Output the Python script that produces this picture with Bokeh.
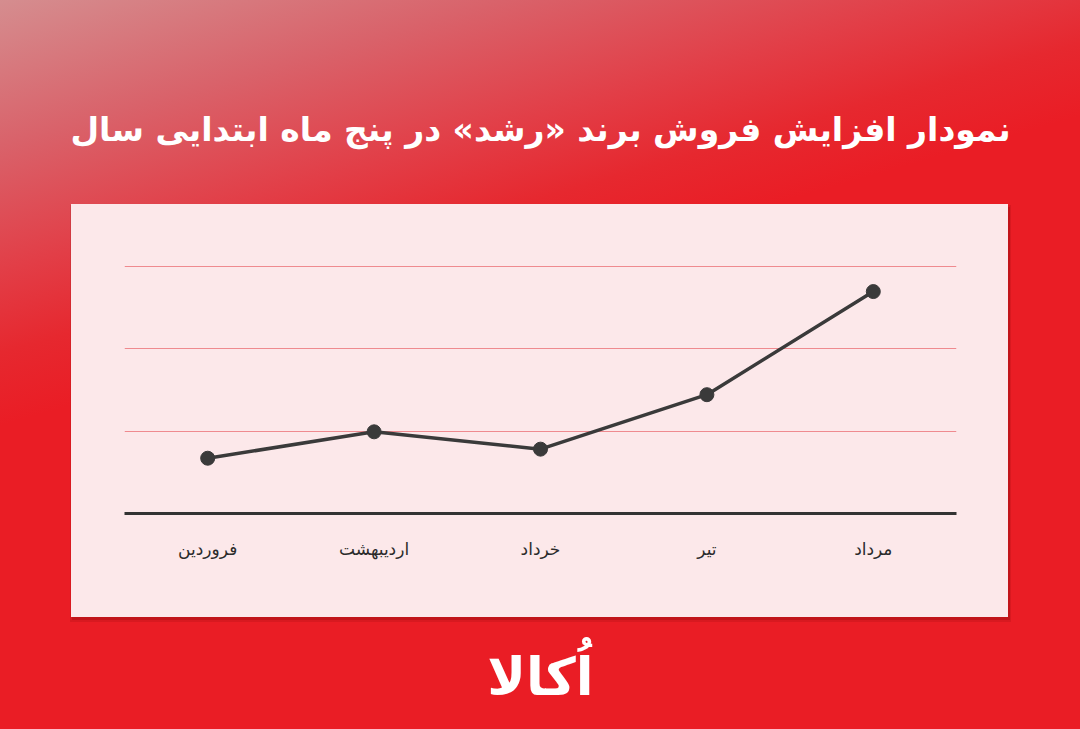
from bokeh.plotting import figure
from bokeh.models import FactorRange, Range1d, Grid, FixedTicker
from bokeh.embed import file_html
from bokeh.resources import INLINE

# ---- data ----
title_text = "نمودار افزایش فروش برند «رشد» در پنج ماه ابتدایی سال"
brand_text = "اُکالا"
months = ["فروردین", "اردیبهشت", "خرداد", "تیر", "مرداد"]
sales = [6.7, 9.9, 7.8, 14.4, 26.9]
grid_ticks = [10, 20, 30]

# ---- layout constants (canvas pixels) ----
W, H = 1080, 729
FL, FR, FT, FB = 124, 124, 249, 216
PANEL = (71, 204, 937, 413)  # left, top, width, height
PANEL_COLOR = "#fce8ea"

p = figure(width=W, height=H,
           x_range=FactorRange(*months), y_range=Range1d(0, 32),
           output_backend="svg", toolbar_location=None,
           y_axis_location=None,
           min_border_left=FL, min_border_right=FR,
           min_border_top=FT, min_border_bottom=FB)

p.background_fill_color = PANEL_COLOR
p.border_fill_color = None
p.outline_line_color = None

pl, pt, pw, ph = PANEL
bg = ", ".join([
    f"linear-gradient({PANEL_COLOR},{PANEL_COLOR}) {pl}px {pt}px / {pw}px {ph}px no-repeat",
    f"linear-gradient(rgba(110,0,0,0.22),rgba(110,0,0,0.22)) {pl+1}px {pt+3}px / {pw+1}px {ph}px no-repeat",
    f"linear-gradient(rgba(110,0,0,0.14),rgba(110,0,0,0.14)) {pl-1}px {pt+1}px / {pw+4}px {ph+4}px no-repeat",
    "linear-gradient(164deg, #d58d8f 0%, #d9626a 14%, #e23e47 26%, #e6282f 34%, #ea1d25 41%, #ea1d25 100%) 0 0 / 100% 100% no-repeat",
])
p.styles = {"background": bg}

# remove default grids, add our own
p.center = [r for r in p.center if not isinstance(r, Grid)]
p.add_layout(Grid(dimension=1, ticker=FixedTicker(ticks=grid_ticks),
                  grid_line_color="#ef8a8f", grid_line_width=1))

xa = p.xaxis[0]
xa.axis_line_color = "#333333"
xa.axis_line_width = 3
xa.major_tick_line_color = None
xa.minor_tick_line_color = None
xa.major_label_text_font = "DejaVu Sans"
xa.major_label_text_font_size = "17px"
xa.major_label_text_color = "#2b2b2b"
xa.major_label_standoff = 19
# brand mark under the chart
xa.axis_label = brand_text
xa.axis_label_text_font = "DejaVu Sans"
xa.axis_label_text_font_style = "bold"
xa.axis_label_text_font_size = "52px"
xa.axis_label_text_color = "white"
xa.axis_label_standoff = 85

p.line(x=months, y=sales, line_width=3.5, line_color="#3a3a3a")
p.scatter(x=months, y=sales, size=14, fill_color="#3a3a3a", line_color="#3a3a3a")

p.title.text = title_text
p.title.align = "center"
p.title.text_font = "DejaVu Sans"
p.title.text_font_style = "bold"
p.title.text_font_size = "33px"
p.title.text_color = "white"
p.title.standoff = 202

open("out.html", "w").write(file_html(p, INLINE))
